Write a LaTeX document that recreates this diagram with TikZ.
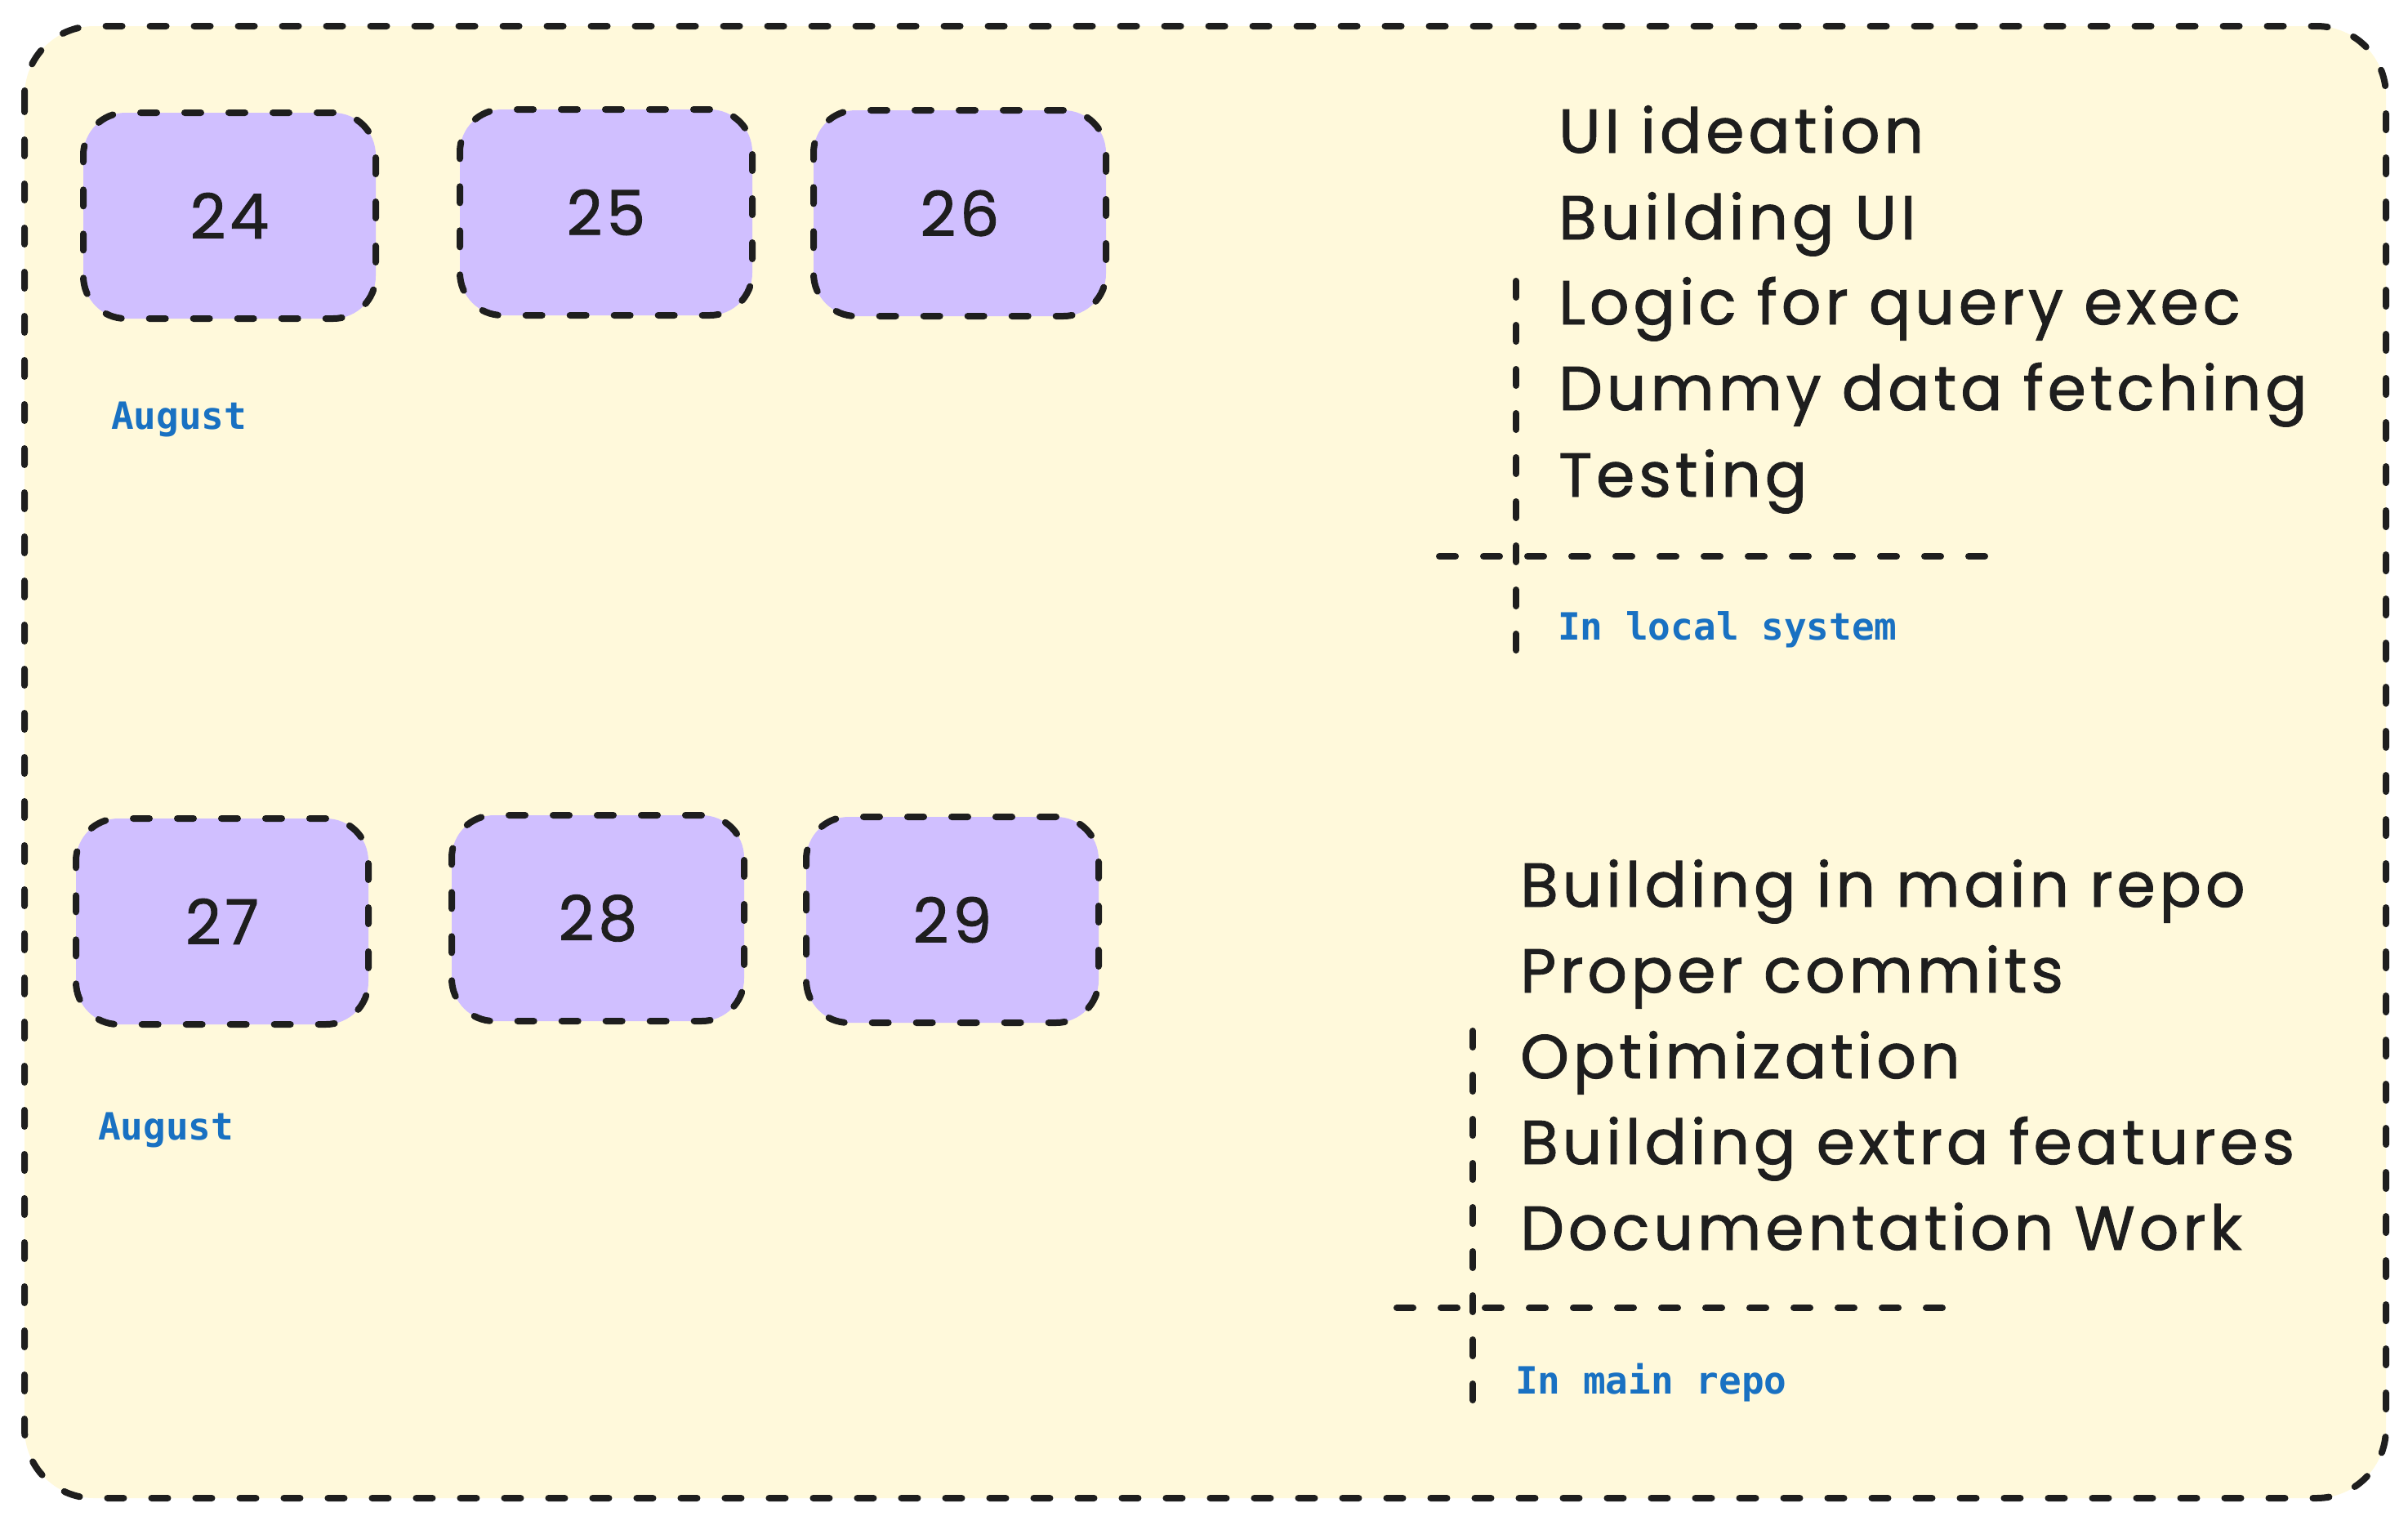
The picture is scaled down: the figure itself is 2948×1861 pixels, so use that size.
\documentclass[tikz,border=0pt]{standalone}
\usepackage{fontspec}
\setmainfont{Poppins}[LetterSpace=6.5,FakeBold=1.2]
\newfontfamily\monof{DejaVu Sans Mono}
\definecolor{ink}{HTML}{1E1E1E}
\definecolor{bgyellow}{HTML}{FFF9DB}
\definecolor{lilac}{HTML}{D0BFFF}
\definecolor{blueink}{HTML}{1971C2}
\begin{document}
\begin{tikzpicture}[x=1pt,y=-1pt]
\tikzset{
  sketch/.style={line width=8pt, draw=ink, dash pattern=on 20pt off 34pt, line cap=round},
  daybox/.style={sketch, fill=lilac, rounded corners=52pt, minimum width=358pt, minimum height=252pt, inner sep=0pt, text=ink, font=\fontsize{76}{90}\selectfont},
  task/.style={anchor=base west, inner sep=0pt, text=ink, font=\fontsize{76}{90}\selectfont},
  note/.style={anchor=base west, inner sep=0pt, text=blueink, font=\monof\bfseries\fontsize{46}{55}\selectfont},
}
\useasboundingbox (0,0) rectangle (2948,1861);
% outer frame
\draw[sketch, fill=bgyellow, rounded corners=85pt] (30,32) rectangle (2921,1834);
% day boxes
\node[daybox] (d24) at (281,264) {24};
\node[daybox] (d25) at (742,260) {25};
\node[daybox] (d26) at (1175,261) {26};
\node[daybox] (d27) at (272,1128) {27};
\node[daybox] (d28) at (732,1124) {28};
\node[daybox] (d29) at (1166,1126) {29};
% month labels
\node[note] (m1) at (136,525) {August};
\node[note] (m2) at (120,1395) {August};
% top task list
\node[task] (t1) at (1908,187) {UI ideation};
\node[task] (t2) at (1908,293) {Building UI};
\node[task] (t3) at (1908,397) {Logic for query exec};
\node[task] (t4) at (1908,502) {Dummy data fetching};
\node[task] (t5) at (1908,608) {Testing};
\coordinate (v1a) at (1856,344);
\coordinate (v1b) at (1856,805);
\coordinate (h1a) at (1762,681);
\coordinate (h1b) at (2439,681);
\draw[sketch] (v1a) -- (v1b);
\draw[sketch] (h1a) -- (h1b);
\node[note] (n1) at (1907,783) {In local system};
% bottom task list
\node[task] (b1) at (1861,1110) {Building in main repo};
\node[task] (b2) at (1861,1215) {Proper commits};
\node[task] (b3) at (1861,1320) {Optimization};
\node[task] (b4) at (1861,1425) {Building extra features};
\node[task] (b5) at (1861,1530) {Documentation Work};
\coordinate (v2a) at (1803,1262);
\coordinate (v2b) at (1803,1724);
\coordinate (h2a) at (1710,1601);
\coordinate (h2b) at (2388,1601);
\draw[sketch] (v2a) -- (v2b);
\draw[sketch] (h2a) -- (h2b);
\node[note] (n2) at (1855,1706) {In main repo};
\end{tikzpicture}
\end{document}
